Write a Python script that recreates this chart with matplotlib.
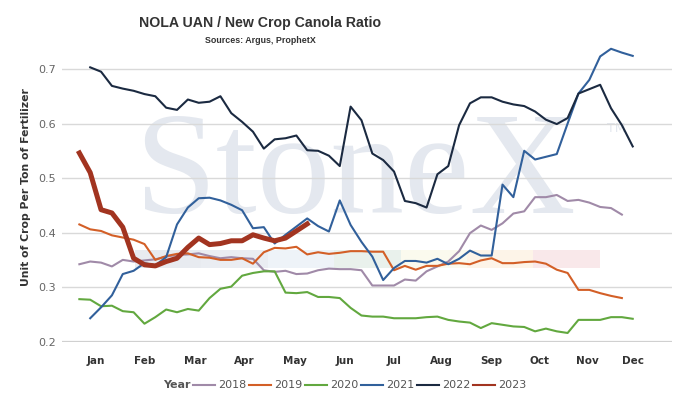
import matplotlib
matplotlib.use("Agg")
import matplotlib.pyplot as plt
from matplotlib.patches import Rectangle
from matplotlib.lines import Line2D

# ---------------- data ----------------
years = ["2018", "2019", "2020", "2021", "2022", "2023"]
start_week = {"2018": 1, "2019": 1, "2020": 1, "2021": 2, "2022": 2, "2023": 1}

v2018 = [0.342, 0.347, 0.345, 0.338, 0.350, 0.347, 0.349, 0.351, 0.356, 0.359, 0.360, 0.362,
         0.357, 0.353, 0.355, 0.353, 0.352, 0.331, 0.328, 0.330, 0.324, 0.325, 0.331, 0.334,
         0.333, 0.333, 0.331, 0.303, 0.303, 0.303, 0.314, 0.312, 0.329, 0.338, 0.347, 0.366,
         0.399, 0.413, 0.405, 0.417, 0.435, 0.439, 0.465, 0.465, 0.469, 0.458, 0.460, 0.455,
         0.447, 0.445, 0.433]
v2019 = [0.415, 0.406, 0.403, 0.395, 0.391, 0.387, 0.379, 0.350, 0.357, 0.361, 0.362, 0.355,
         0.354, 0.350, 0.350, 0.353, 0.343, 0.364, 0.372, 0.371, 0.374, 0.360, 0.364, 0.361,
         0.363, 0.366, 0.366, 0.365, 0.365, 0.331, 0.339, 0.332, 0.339, 0.339, 0.343, 0.344,
         0.342, 0.349, 0.353, 0.344, 0.344, 0.346, 0.347, 0.343, 0.332, 0.326, 0.295, 0.295,
         0.289, 0.284, 0.280]
v2020 = [0.278, 0.277, 0.265, 0.266, 0.256, 0.254, 0.233, 0.245, 0.259, 0.254, 0.260, 0.257,
         0.280, 0.297, 0.301, 0.321, 0.326, 0.329, 0.329, 0.290, 0.289, 0.291, 0.282, 0.282,
         0.280, 0.262, 0.248, 0.246, 0.246, 0.243, 0.243, 0.243, 0.245, 0.246, 0.240, 0.237,
         0.235, 0.225, 0.234, 0.231, 0.228, 0.227, 0.219, 0.224, 0.219, 0.216, 0.240, 0.240,
         0.240, 0.245, 0.245, 0.242]
v2021 = [0.243, 0.263, 0.285, 0.324, 0.330, 0.344, 0.340, 0.355, 0.415, 0.446, 0.463, 0.464,
         0.459, 0.451, 0.441, 0.408, 0.410, 0.380, 0.396, 0.411, 0.426, 0.412, 0.402, 0.459,
         0.414, 0.383, 0.356, 0.313, 0.335, 0.348, 0.348, 0.345, 0.352, 0.342, 0.352, 0.367,
         0.358, 0.358, 0.488, 0.465, 0.550, 0.534, 0.539, 0.544, 0.600, 0.655, 0.680, 0.723,
         0.737, 0.730, 0.724]
v2022 = [0.703, 0.695, 0.669, 0.664, 0.660, 0.654, 0.650, 0.629, 0.625, 0.644, 0.638, 0.640,
         0.650, 0.619, 0.603, 0.585, 0.554, 0.571, 0.573, 0.578, 0.551, 0.550, 0.541, 0.522,
         0.631, 0.606, 0.545, 0.533, 0.512, 0.458, 0.454, 0.446, 0.507, 0.522, 0.597, 0.637,
         0.648, 0.648, 0.640, 0.635, 0.632, 0.622, 0.607, 0.599, 0.610, 0.655, 0.663, 0.671,
         0.628, 0.597, 0.558]
v2023 = [0.546, 0.510, 0.442, 0.436, 0.410, 0.353, 0.341, 0.339, 0.347, 0.353, 0.373, 0.390,
         0.378, 0.380, 0.385, 0.385, 0.396, 0.390, 0.385, 0.390, 0.403, 0.416]
values = {"2018": v2018, "2019": v2019, "2020": v2020,
          "2021": v2021, "2022": v2022, "2023": v2023}

month_labels = ["Jan", "Feb", "Mar", "Apr", "May", "Jun",
                "Jul", "Aug", "Sep", "Oct", "Nov", "Dec"]
month_pos = [2.5, 7.05, 11.66, 16.18, 20.87, 25.48, 30.0, 34.35, 38.96, 43.45, 47.79, 52.03]
y_ticks = [0.2, 0.3, 0.4, 0.5, 0.6, 0.7]

colors = {"2018": "#a08aa8", "2019": "#d35f27", "2020": "#62a83f",
          "2021": "#31609b", "2022": "#1b2a41", "2023": "#a23420"}
widths = {"2018": 1.5, "2019": 1.5, "2020": 1.5, "2021": 1.5, "2022": 1.5, "2023": 3.6}

# ---------------- figure ----------------
W, H = 695, 403
fig = plt.figure(figsize=(W / 100, H / 100), dpi=100)
L, R, T, B = 62, 672, 41.7, 341.7
ax = fig.add_axes([L / W, 1 - B / H, (R - L) / W, (B - T) / H])
ax.set_xlim(-0.6, 55.62)
ax.set_ylim(0.2, 0.75)

for s in ax.spines.values():
    s.set_visible(False)

# grid
for yv in y_ticks:
    ax.axhline(yv, color="#d9d9d9" if yv > 0.2 else "#d0d0d0",
               lw=1.0 if yv > 0.2 else 1.6, zorder=1)

# watermark
ax.text(0.118, 0.43, "StoneX", transform=ax.transAxes, fontsize=106,
        family="Liberation Serif", color="#e4e8ef", ha="left", va="baseline", zorder=0)
ax.text(0.893, 0.71, "TM", transform=ax.transAxes, fontsize=9,
        family="DejaVu Sans", color="#e4e8ef", ha="left", va="center", zorder=0)
band_colors = ["#e8ebf0", "#eaedf2", "#eef3f8", "#e9f1ec", "#fbfaee", "#fdf4e8", "#f9e8ea"]
bx0 = (135 - L) / (R - L)
bw = 66.4 / (R - L)
by0 = (B - 268) / (B - T)
bh = 18 / (B - T)
for i, c in enumerate(band_colors):
    ax.add_patch(Rectangle((bx0 + i * bw, by0), bw, bh, transform=ax.transAxes,
                           facecolor=c, edgecolor="none", zorder=0.5))

# lines
for i, yr in enumerate(years):
    v = values[yr]
    wk = list(range(start_week[yr], start_week[yr] + len(v)))
    ax.plot(wk, v, color=colors[yr], lw=widths[yr], zorder=2 + i,
            solid_joinstyle="round", clip_on=False)

# ticks
ax.set_xticks(month_pos)
ax.set_xticklabels(month_labels, fontsize=7.5, fontweight="bold", color="#333333")
ax.set_yticks(y_ticks)
ax.set_yticklabels([f"{t:.1f}" for t in y_ticks], fontsize=8, color="#666666")
ax.tick_params(axis="both", length=0)
ax.tick_params(axis="x", pad=10)
ax.tick_params(axis="y", pad=4.5)

fig.text(26 / W, 1 - 187 / H, "Unit of Crop Per Ton of Fertilizer", rotation=90,
         fontsize=7.8, fontweight="bold", color="#333333", ha="center", va="center")

# titles
fig.text(260 / W, 1 - 23 / H, "NOLA UAN / New Crop Canola Ratio",
         family=["Liberation Sans", "DejaVu Sans"], fontsize=10.2,
         fontweight="bold", color="#333333", ha="center", va="center")
fig.text(260 / W, 1 - 40.5 / H, "Sources: Argus, ProphetX",
         family=["Liberation Sans", "DejaVu Sans"], fontsize=6.4,
         fontweight="bold", color="#333333", ha="center", va="center")

# legend
fig.text(163 / W, 1 - 385.5 / H, "Year", fontsize=8, fontweight="bold",
         color="#555555", ha="left", va="center")
handles = [Line2D([], [], color=colors[y], lw=1.5) for y in years]
leg = fig.legend(handles, years, loc="center left", bbox_to_anchor=(193 / W, 1 - 385.5 / H),
                 ncol=6, frameon=False, fontsize=8, handlelength=1.98,
                 handletextpad=0.27, columnspacing=0.24, borderpad=0, borderaxespad=0)
for t in leg.get_texts():
    t.set_color("#555555")

fig.savefig("out.png", dpi=100)
